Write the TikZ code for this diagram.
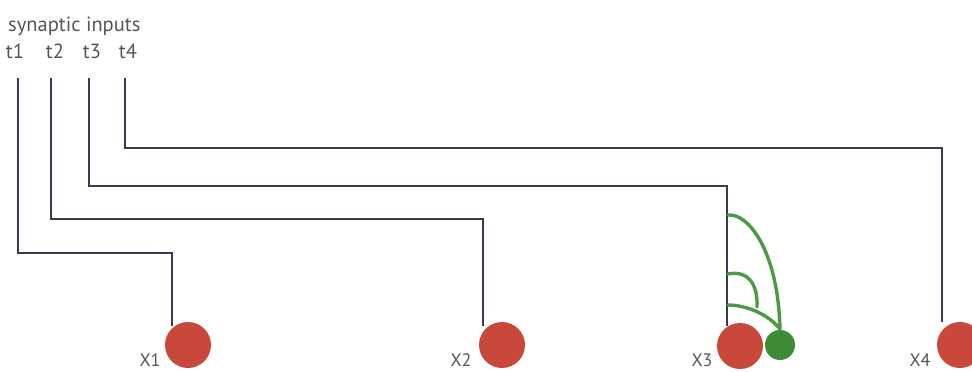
\documentclass[tikz,border=0pt]{standalone}
\usepackage{fontspec}
\setmainfont{PT Sans}
\begin{document}
\begin{tikzpicture}[x=1pt,y=-1pt,
  wire/.style={draw=wirecol,line width=2.5pt,line join=miter},
  dend/.style={draw=dendcol,line width=3.4pt,line cap=round},
  cell/.style={circle,fill=cellred,minimum size=46pt,inner sep=0pt},
  inter/.style={circle,fill=intergreen,minimum size=30pt,inner sep=0pt},
  lab/.style={text=labgray,inner sep=0pt},
  toplab/.style={lab,font=\fontsize{20.5}{24}\selectfont},
  celllab/.style={lab,font=\fontsize{18}{21}\selectfont},
]
\definecolor{wirecol}{HTML}{3A3A4C}
\definecolor{dendcol}{HTML}{4C9A44}
\definecolor{cellred}{HTML}{C8483B}
\definecolor{intergreen}{HTML}{3F8C38}
\definecolor{labgray}{HTML}{555555}
\useasboundingbox (0,0) rectangle (972,372);

% header and input labels
\node[toplab,anchor=base west] (hdr) at (8,31) {synaptic inputs};
\node[toplab,anchor=base] (t1) at (15,58) {t1};
\node[toplab,anchor=base] (t2) at (55,58) {t2};
\node[toplab,anchor=base] (t3) at (92,58) {t3};
\node[toplab,anchor=base] (t4) at (128,58) {t4};

% cells
\node[cell] (x1) at (188,345) {};
\node[cell] (x2) at (502,345) {};
\node[cell] (x3) at (740,346) {};
\node[inter] (g) at (780,345) {};
\node[cell] (x4) at (960,345) {};
\node[celllab,anchor=base] (lx1) at (150,366) {X1};
\node[celllab,anchor=base] (lx2) at (461,366) {X2};
\node[celllab,anchor=base] (lx3) at (702,366) {X3};
\node[celllab,anchor=base] (lx4) at (920,366) {X4};

% wire start points, elbows and ends
\coordinate (s1) at (18,78);  \coordinate (k1) at (172,253); \coordinate (e1) at (172,326);
\coordinate (s2) at (51,78);  \coordinate (k2) at (483,219); \coordinate (e2) at (483,326);
\coordinate (s3) at (89,78);  \coordinate (k3) at (727,186); \coordinate (e3) at (727,326);
\coordinate (s4) at (125,78); \coordinate (k4) at (942,148); \coordinate (e4) at (942,322);

\draw[wire] (s1) |- (k1) -- (e1);
\draw[wire] (s2) |- (k2) -- (e2);
\draw[wire] (s3) |- (k3) -- (e3);
\draw[wire] (s4) |- (k4) -- (e4);

% dendritic branches of the green interneuron
\coordinate (b1) at (728,215);
\coordinate (b2) at (728,274);
\coordinate (b3) at (728,305);
\coordinate (j) at (757,307);
\coordinate (gt) at (780,329);
\draw[dend] (b1) .. controls (748,213) and (778,250) .. (gt);
\draw[dend] (b2) .. controls (748,270) and (758,284) .. (j);
\draw[dend] (b3) .. controls (746,305) and (768,314) .. (gt);
\end{tikzpicture}
\end{document}
